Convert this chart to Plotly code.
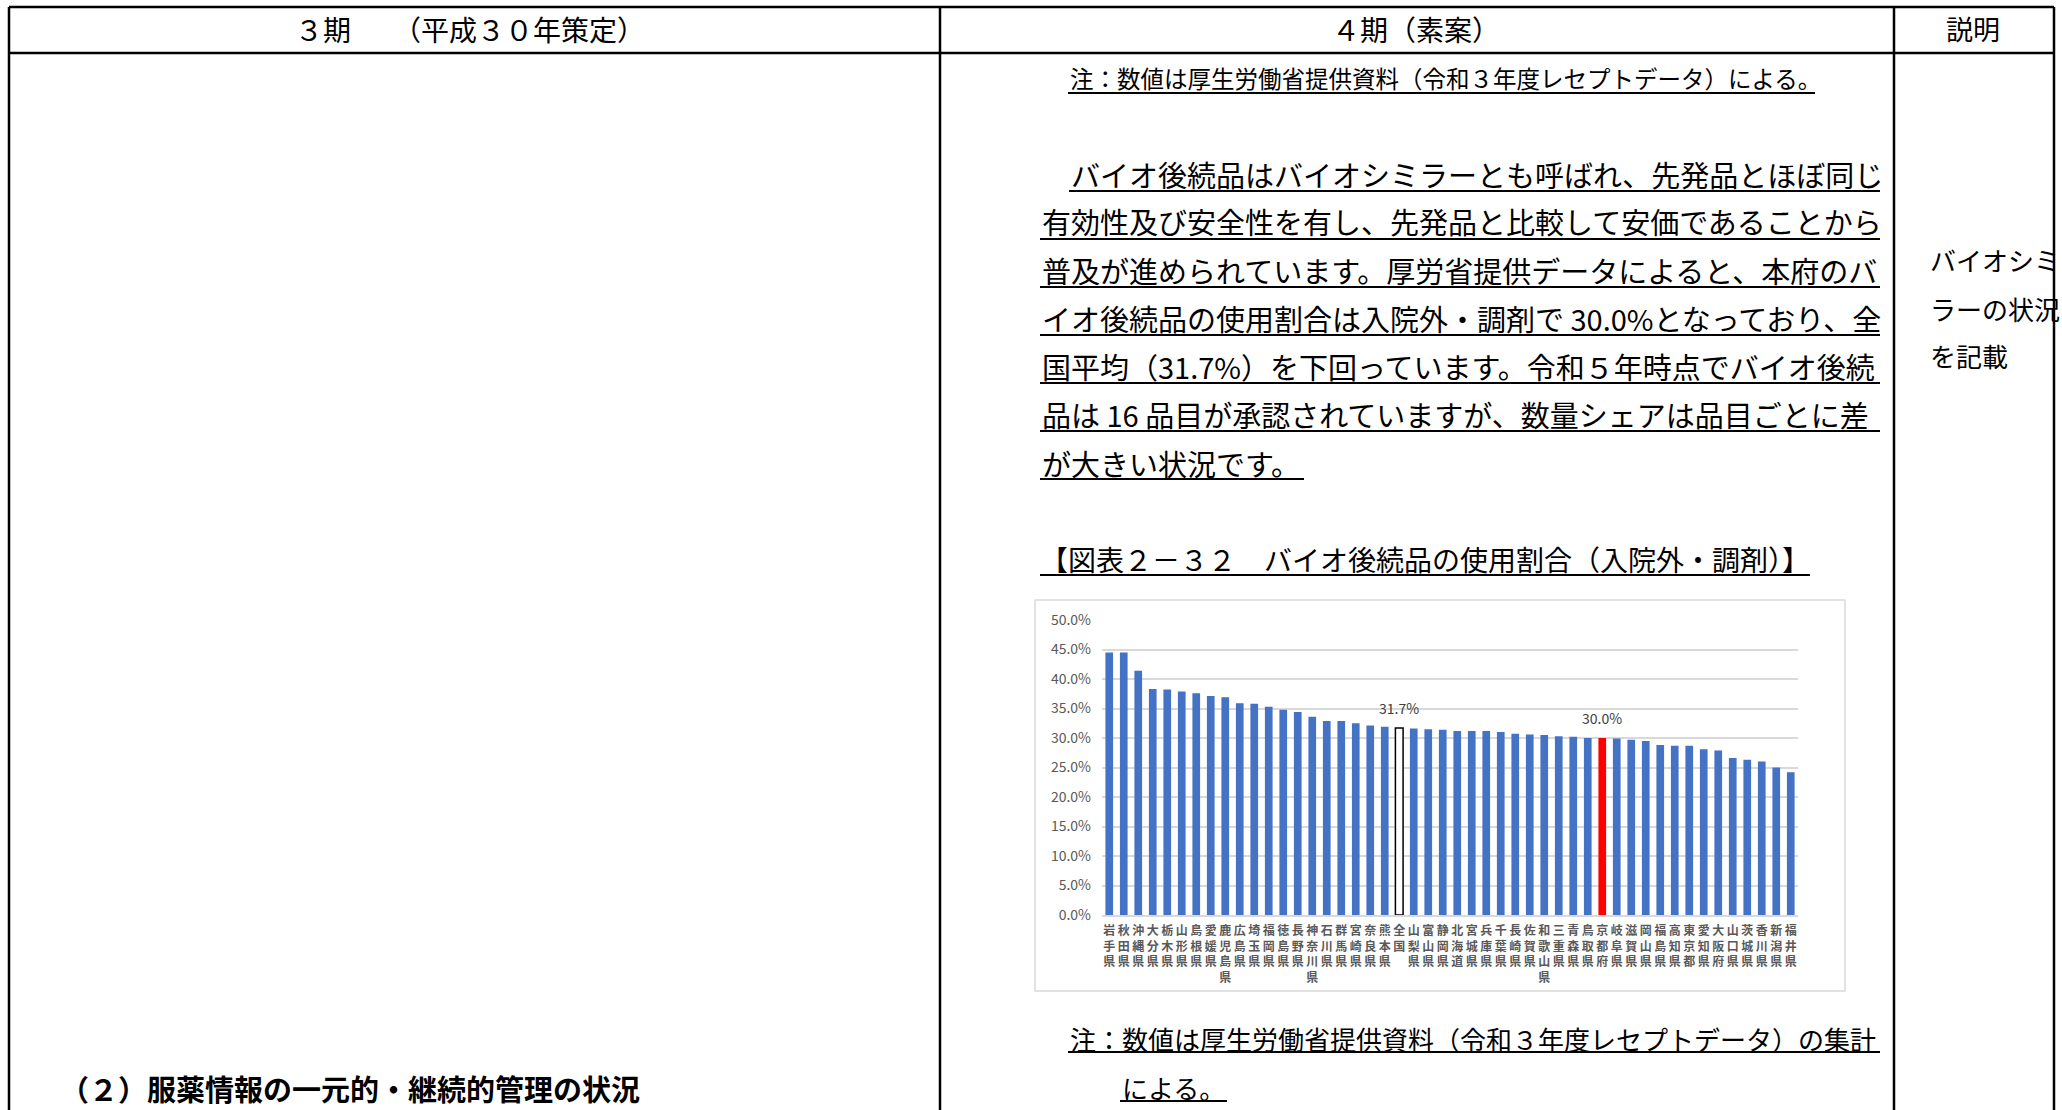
import plotly.graph_objects as go

# ---- data -----------------------------------------------------------------
prefectures = [
    "岩手県", "秋田県", "沖縄県", "大分県", "栃木県", "山形県", "島根県", "愛媛県",
    "鹿児島県", "広島県", "埼玉県", "福岡県", "徳島県", "長野県", "神奈川県", "石川県",
    "群馬県", "宮崎県", "奈良県", "熊本県", "全国", "山梨県", "富山県", "静岡県",
    "北海道", "宮城県", "兵庫県", "千葉県", "長崎県", "佐賀県", "和歌山県", "三重県",
    "青森県", "鳥取県", "京都府", "岐阜県", "滋賀県", "岡山県", "福島県", "高知県",
    "東京都", "愛知県", "大阪府", "山口県", "茨城県", "香川県", "新潟県", "福井県",
]
usage_pct = [
    44.5, 44.5, 41.4, 38.3, 38.2, 37.9, 37.6, 37.1,
    36.9, 35.9, 35.8, 35.3, 34.8, 34.4, 33.6, 32.9,
    32.9, 32.5, 32.1, 31.9, 31.7, 31.6, 31.5, 31.4,
    31.2, 31.2, 31.2, 31.0, 30.7, 30.6, 30.5, 30.3,
    30.2, 30.0, 30.0, 29.9, 29.7, 29.5, 28.8, 28.7,
    28.7, 28.1, 27.9, 26.6, 26.3, 26.0, 25.0, 24.2,
]
y_ticks = [0, 5, 10, 15, 20, 25, 30, 35, 40, 45, 50]
national_label = "全国"
home_label = "京都府"

header_texts = ["３期　　（平成３０年策定）", "４期（素案）", "説明"]
note_top = "注：数値は厚生労働省提供資料（令和３年度レセプトデータ）による。"
body_lines = [
    "　バイオ後続品はバイオシミラーとも呼ばれ、先発品とほぼ同じ",
    "有効性及び安全性を有し、先発品と比較して安価であることから",
    "普及が進められています。厚労省提供データによると、本府のバ",
    "イオ後続品の使用割合は入院外・調剤で 30.0%となっており、全",
    "国平均（31.7%）を下回っています。令和５年時点でバイオ後続",
    "品は 16 品目が承認されていますが、数量シェアは品目ごとに差",
    "が大きい状況です。",
]
chart_title = "【図表２－３２　バイオ後続品の使用割合（入院外・調剤）】"
note_bottom = ["注：数値は厚生労働省提供資料（令和３年度レセプトデータ）の集計", "による。"]
remark_lines = ["バイオシミ", "ラーの状況", "を記載"]
section_heading = "（２）服薬情報の一元的・継続的管理の状況"

# ---- page geometry (pixels) ----------------------------------------------
W, H = 2062, 1110
FONT = "Noto Sans CJK JP"


def fx(x):
    return x / W


def fy(y):
    return 1 - y / H


fig = go.Figure()

# ---- bar chart --------------------------------------------------------------
tick_text = ["<b>" + "<br>".join(list(p)) + "</b>" for p in prefectures]
fill = []
edge = []
edge_w = []
for p in prefectures:
    if p == national_label:
        fill.append("#ffffff"); edge.append("#000000"); edge_w.append(1.5)
    elif p == home_label:
        fill.append("#ff0000"); edge.append("#ff0000"); edge_w.append(0)
    else:
        fill.append("#4472c4"); edge.append("#4472c4"); edge_w.append(0)

fig.add_trace(go.Bar(
    x=prefectures, y=usage_pct,
    marker=dict(color=fill, line=dict(color=edge, width=edge_w)),
    width=0.53, hoverinfo="x+y", showlegend=False,
))

for p in (national_label, home_label):
    v = usage_pct[prefectures.index(p)]
    fig.add_annotation(x=p, y=v, xref="x", yref="y", text=f"{v:.1f}%",
                       showarrow=False, yanchor="bottom", yshift=8,
                       font=dict(family=FONT, size=14, color="#404040"))

fig.update_xaxes(
    domain=[fx(1102), fx(1798)], range=[-0.5, len(prefectures) - 0.5],
    tickmode="array", tickvals=prefectures, ticktext=tick_text, tickangle=0,
    tickfont=dict(family=FONT, size=12, color="#595959"),
    showline=True, linecolor="#d9d9d9", linewidth=1.5, showgrid=False,
    ticks="", ticklabelstandoff=4, automargin=False, fixedrange=True,
)
fig.update_yaxes(
    domain=[fy(915), fy(620)], range=[0, 50],
    tickmode="array", tickvals=y_ticks,
    ticktext=[f"{t:.1f}%" for t in y_ticks],
    tickfont=dict(family=FONT, size=14, color="#595959"),
    showgrid=True, gridcolor="#d9d9d9", gridwidth=1.5,
    zeroline=False, showline=False, ticks="", ticklabelstandoff=10,
    automargin=False, fixedrange=True,
)

# ---- table frame ----------------------------------------------------------
shapes = []


def hline(x0, x1, y, color="black", w=2.5):
    shapes.append(dict(type="line", xref="paper", yref="paper",
                       x0=fx(x0), x1=fx(x1), y0=fy(y), y1=fy(y),
                       line=dict(color=color, width=w)))


def vline(x, y0, y1, color="black", w=2.5):
    shapes.append(dict(type="line", xref="paper", yref="paper",
                       x0=fx(x), x1=fx(x), y0=fy(y0), y1=fy(y1),
                       line=dict(color=color, width=w)))


# chart frame
shapes.append(dict(type="rect", xref="paper", yref="paper",
                   x0=fx(1035), x1=fx(1845), y0=fy(991), y1=fy(600),
                   line=dict(color="#d9d9d9", width=1.5), layer="below"))

hline(9, 2054, 7)
hline(9, 2054, 53)
for xv in (9, 940, 1894, 2054):
    vline(xv, 7, H + 5)

# underlines of the draft text
hline(1068, 1815, 93, w=2)
body_y = [174, 221, 270, 318, 366, 414, 463]
under_y = [191, 239, 287, 335, 383, 431, 479]
under_x = [(1069, 1880)] + [(1040, 1880)] * 5 + [(1040, 1304)]
for (ux0, ux1), uy in zip(under_x, under_y):
    hline(ux0, ux1, uy, w=2)
hline(1040, 1810, 575, w=2)
hline(1068, 1880, 1052, w=2)
hline(1120, 1227, 1101, w=2)

fig.update_layout(shapes=shapes)

# ---- text -----------------------------------------------------------------


def text(x, y, s, size, anchor="left", bold=False, color="black"):
    fig.add_annotation(x=fx(x), y=fy(y), xref="paper", yref="paper",
                       text=f"<b>{s}</b>" if bold else s, showarrow=False,
                       xanchor=anchor, yanchor="middle",
                       font=dict(family=FONT, size=size, color=color))


text(470, 29, header_texts[0], 28, "center")
text(1416, 29, header_texts[1], 28, "center")
text(1973, 29, header_texts[2], 27, "center")

text(1068, 78, note_top, 23.5)
for line, yy in zip(body_lines, body_y):
    text(1040, yy, line, 29)
text(1038, 559, chart_title, 28)
text(1068, 1038, note_bottom[0], 26)
text(1120, 1087, note_bottom[1], 26)

for line, yy in zip(remark_lines, [259, 308, 355]):
    text(1928, yy, line, 26)

text(58, 1088, section_heading, 29, bold=True)

fig.update_layout(
    width=W, height=H,
    margin=dict(l=0, r=0, t=0, b=0, pad=0),
    paper_bgcolor="white", plot_bgcolor="white",
    bargap=0.47,
)

fig.write_html("out.html")
